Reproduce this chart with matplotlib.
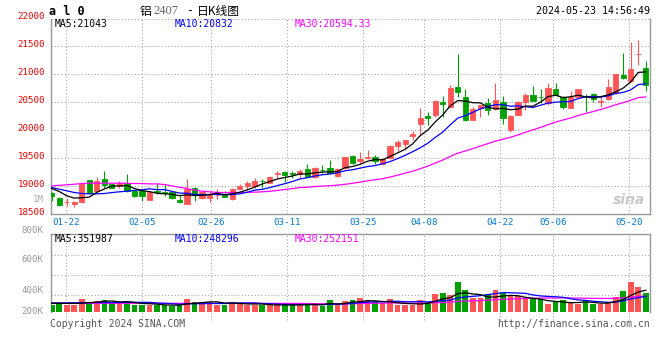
import matplotlib
matplotlib.use("Agg")
import matplotlib.pyplot as plt
from matplotlib.transforms import ScaledTranslation

# ---- data (aluminium al2407 daily K-line) ----
dates = ["01-18", "01-19", "01-22", "01-23", "01-24", "01-25", "01-26", "01-29", "01-30", "01-31",
         "02-01", "02-02", "02-05", "02-06", "02-07", "02-08", "02-19", "02-20", "02-21", "02-22",
         "02-23", "02-26", "02-27", "02-28", "02-29", "03-01", "03-04", "03-05", "03-06", "03-07",
         "03-08", "03-11", "03-12", "03-13", "03-14", "03-15", "03-18", "03-19", "03-20", "03-21",
         "03-22", "03-25", "03-26", "03-27", "03-28", "03-29", "04-01", "04-02", "04-03", "04-08",
         "04-09", "04-10", "04-11", "04-12", "04-15", "04-16", "04-17", "04-18", "04-19", "04-22",
         "04-23", "04-24", "04-25", "04-26", "04-29", "04-30", "05-06", "05-07", "05-08", "05-09",
         "05-10", "05-13", "05-14", "05-15", "05-16", "05-17", "05-20", "05-21", "05-22", "05-23"]

opens = [18864, 18775, 18710, 18675, 18704, 19101, 18912, 19131, 19030, 19000,
         19048, 18912, 18912, 18752, 18903, 18894, 18882, 18752, 18675, 18971,
         18787, 18781, 18835, 18846, 18763, 18941, 19000, 19000, 19089, 19060,
         19220, 19249, 19226, 19208, 19297, 19166, 19285, 19314, 19178, 19314,
         19533, 19445, 19505, 19516, 19385, 19504, 19711, 19758, 19889, 20114,
         20256, 20274, 20505, 20422, 20765, 20588, 20185, 20404, 20493, 20380,
         20511, 19995, 20274, 20511, 20629, 20590, 20481, 20730, 20600, 20404,
         20600, 20603, 20641, 20508, 20558, 20659, 20985, 20878, 21358, 21121]
highs = [18882, 18793, 18775, 18734, 19060, 19110, 19166, 19267, 19040, 19089,
         19208, 18920, 18918, 18882, 19048, 19030, 18890, 18835, 19119, 18989,
         18882, 18900, 18953, 18900, 18971, 19030, 19089, 19148, 19131, 19170,
         19267, 19267, 19267, 19297, 19385, 19338, 19368, 19456, 19326, 19516,
         19551, 19610, 19652, 19545, 19505, 19730, 19830, 19830, 19990, 20404,
         20333, 20540, 20612, 20807, 21358, 20730, 20410, 20451, 20570, 20848,
         20617, 20274, 20515, 20671, 20789, 20730, 20836, 20848, 20612, 20700,
         20736, 20647, 20659, 20600, 20907, 21010, 21382, 21577, 21618, 21233]
lows = [18734, 18633, 18645, 18615, 18700, 18865, 18882, 18971, 18965, 18971,
        18882, 18800, 18734, 18740, 18852, 18823, 18760, 18692, 18675, 18734,
        18770, 18716, 18763, 18793, 18752, 18941, 18930, 18971, 18971, 19050,
        19148, 19071, 19148, 19148, 19166, 19148, 19237, 19208, 19166, 19310,
        19385, 19415, 19474, 19385, 19373, 19500, 19622, 19681, 19818, 19918,
        20096, 20232, 20232, 20392, 20600, 20155, 20173, 20226, 20262, 20363,
        20114, 19960, 20270, 20363, 20528, 20481, 20451, 20629, 20375, 20392,
        20600, 20321, 20511, 20410, 20540, 20655, 20907, 20866, 21162, 20706]
closes = [18811, 18663, 18720, 18704, 19042, 18870, 19089, 19018, 18971, 19048,
          18912, 18823, 18823, 18882, 18897, 18864, 18781, 18704, 18953, 18835,
          18882, 18841, 18841, 18805, 18941, 19000, 19060, 19089, 19083, 19160,
          19226, 19196, 19220, 19267, 19166, 19314, 19280, 19226, 19297, 19516,
          19415, 19474, 19510, 19445, 19486, 19723, 19794, 19830, 19936, 20221,
          20215, 20529, 20463, 20748, 20689, 20173, 20380, 20451, 20363, 20540,
          20215, 20256, 20511, 20629, 20528, 20587, 20748, 20629, 20422, 20600,
          20730, 20597, 20552, 20514, 20765, 21002, 20937, 21103, 21364, 20807]

ma5 = [18953, 18900, 18823, 18781, 18788, 18800, 18885, 18945, 18998, 18999,
       19008, 18954, 18915, 18898, 18867, 18858, 18849, 18826, 18840, 18827,
       18831, 18843, 18870, 18841, 18862, 18886, 18929, 18979, 19035, 19078,
       19124, 19151, 19177, 19214, 19215, 19233, 19249, 19251, 19257, 19327,
       19347, 19386, 19442, 19472, 19466, 19528, 19592, 19656, 19754, 19901,
       19999, 20146, 20273, 20435, 20529, 20520, 20491, 20488, 20411, 20381,
       20390, 20365, 20377, 20430, 20428, 20502, 20601, 20624, 20583, 20597,
       20626, 20596, 20580, 20599, 20632, 20686, 20754, 20864, 21034, 21043]
ma10 = [18971, 18941, 18912, 18882, 18864, 18858, 18858, 18864, 18880, 18894,
        18904, 18920, 18930, 18948, 18933, 18933, 18902, 18871, 18869, 18847,
        18844, 18846, 18848, 18840, 18845, 18858, 18886, 18925, 18938, 18970,
        19005, 19040, 19078, 19124, 19147, 19178, 19200, 19214, 19235, 19271,
        19290, 19318, 19347, 19364, 19396, 19437, 19489, 19549, 19613, 19683,
        19763, 19869, 19964, 20095, 20215, 20260, 20318, 20381, 20423, 20455,
        20455, 20428, 20433, 20421, 20405, 20446, 20483, 20501, 20507, 20513,
        20564, 20598, 20602, 20591, 20614, 20656, 20675, 20722, 20816, 20832]
ma30 = [19000, 19010, 19020, 19030, 19042, 19048, 19048, 19048, 19048, 19048,
        19048, 19042, 19042, 19036, 19036, 19024, 19000, 18976, 18953, 18923,
        18905, 18894, 18882, 18882, 18882, 18882, 18884, 18888, 18894, 18904,
        18918, 18935, 18952, 18971, 18975, 18990, 18996, 19003, 19014, 19029,
        19046, 19068, 19091, 19110, 19129, 19158, 19192, 19229, 19262, 19308,
        19353, 19409, 19463, 19528, 19586, 19625, 19669, 19714, 19757, 19803,
        19836, 19871, 19914, 19960, 20005, 20048, 20097, 20143, 20181, 20217,
        20261, 20298, 20333, 20369, 20411, 20454, 20492, 20534, 20582, 20594.33]

volumes = [108, 141, 113, 113, 212, 157, 174, 190, 135, 135,
           174, 113, 108, 108, 108, 108, 91, 108, 212, 157,
           163, 157, 108, 108, 163, 135, 108, 108, 108, 108,
           108, 108, 108, 108, 146, 119, 91, 190, 108, 174,
           190, 229, 190, 163, 135, 207, 108, 108, 108, 190,
           152, 289, 311, 273, 492, 360, 218, 218, 284, 360,
           311, 267, 256, 229, 229, 201, 130, 163, 190, 135,
           120, 185, 120, 130, 140, 240, 340, 480, 400, 300]  # thousands
vol_ma5 = [135, 135, 135, 135, 137, 147, 154, 169, 174, 158,
           162, 149, 133, 128, 122, 109, 105, 105, 125, 135,
           146, 159, 159, 139, 140, 134, 124, 124, 124, 113,
           108, 108, 108, 108, 116, 118, 114, 131, 123, 134,
           154, 162, 178, 176, 165, 161, 144, 133, 128, 124,
           133, 169, 210, 227, 295, 309, 290, 279, 238, 238,
           256, 266, 260, 234, 218, 205, 179, 166, 158, 145,
           148, 159, 150, 138, 139, 163, 194, 266, 320, 351.987]
vol_ma10 = [140, 140, 142, 142, 144, 146, 147, 148, 148, 148,
            154, 152, 151, 151, 140, 135, 127, 119, 127, 129,
            128, 132, 132, 132, 138, 140, 142, 142, 132, 127,
            121, 116, 116, 116, 115, 113, 111, 119, 119, 126,
            134, 146, 155, 160, 159, 168, 169, 161, 161, 163,
            159, 165, 177, 188, 224, 239, 250, 261, 279, 296,
            312, 309, 304, 300, 273, 257, 249, 243, 234, 211,
            192, 184, 170, 160, 151, 155, 176, 208, 229, 248.296]
vol_ma30 = [136, 136, 136, 136, 136, 136, 136, 136, 136, 136,
            136, 136, 136, 136, 135, 135, 135, 135, 135, 135,
            135, 135, 135, 135, 135, 135, 135, 135, 134, 134,
            134, 133, 133, 133, 131, 129, 127, 127, 126, 127,
            128, 132, 134, 136, 137, 140, 141, 141, 137, 138,
            138, 143, 149, 155, 166, 173, 177, 181, 186, 195,
            202, 207, 212, 216, 219, 221, 223, 222, 225, 223,
            221, 219, 217, 216, 216, 217, 225, 237, 247, 252.151]

tick_dates = ["01-22", "02-05", "02-26", "03-11", "03-25", "04-08", "04-22", "05-06", "05-20"]
price_ticks = [22000, 21500, 21000, 20500, 20000, 19500, 19000, 18500]
vol_labels = ["1M", "800K", "600K", "400K", "200K"]

RED = "#ff5555"
GREEN = "#00a000"
GRID = "#a8a8a8"
FRAME = "#999999"
MONO = "DejaVu Sans Mono"

W, H = 660, 360
fig = plt.figure(figsize=(6.6, 3.6), dpi=100)
fig.patch.set_facecolor("white")


def px_rect(x0, y0, x1, y1):
    return [x0 / W, 1 - y1 / H, (x1 - x0) / W, (y1 - y0) / H]


ax = fig.add_axes(px_rect(50.7, 18.5, 650, 213.8))
axv = fig.add_axes(px_rect(50.7, 234, 650, 311.5))

n = len(dates)
xs = list(range(n))
colors = [RED if c >= o else GREEN for o, c in zip(opens, closes)]
grid_x = [dates.index(d) * 80 / 79 - 0.13 for d in tick_dates]
xlim = (-0.133, 79.56)

# ---- price panel ----
ax.vlines(xs, lows, highs, colors=colors, linewidth=0.8, zorder=3)
ax.bar(xs, [abs(c - o) for o, c in zip(opens, closes)], bottom=[min(o, c) for o, c in zip(opens, closes)],
       width=0.7, color=colors, edgecolor=colors, linewidth=0.6, zorder=4)
ax.plot(xs, ma30, color="#ff00ff", linewidth=0.9, zorder=5)
ax.plot(xs, ma10, color="#0000ff", linewidth=0.9, zorder=5)
ax.plot(xs, ma5, color="black", linewidth=0.9, zorder=5)

ax.set_xlim(*xlim)
ax.set_ylim(18500, 22000)
for p in price_ticks[:-1]:
    ax.axhline(p, color=GRID, linewidth=0.8, linestyle=(0, (1, 2)), zorder=1)
for gx in grid_x:
    ax.axvline(gx, color=GRID, linewidth=0.8, linestyle=(0, (1, 2)), zorder=1)

ax.set_yticks(price_ticks)
ax.set_yticklabels([str(p) for p in price_ticks], color="#ee0000", fontsize=6.6, family=MONO)
ax.tick_params(axis="y", length=0, pad=4)
for lbl in ax.get_yticklabels():
    lbl.set_transform(lbl.get_transform() + ScaledTranslation(0, 2 / 72, fig.dpi_scale_trans))
ax.set_xticks(grid_x)
ax.set_xticklabels(tick_dates, color="#0078d7", fontsize=6.6, family=MONO)
ax.tick_params(axis="x", length=0, pad=3)

for side in ["left", "bottom", "right"]:
    ax.spines[side].set_color(FRAME)
    ax.spines[side].set_linewidth(1)
ax.spines["top"].set_visible(False)

ax.text(-0.012, 0.071, "1M", transform=ax.transAxes, ha="right", va="center",
        color="#aaaaaa", fontsize=6.6, family=MONO)
ax.text(0.992, 0.07, "sina", transform=ax.transAxes, ha="right", va="center", color="#c8c8c8",
        fontsize=10, fontweight="bold", style="italic", family="DejaVu Sans", zorder=2)

# ---- volume panel ----
vol_top = 1279
axv.bar(xs, volumes, width=0.75, color=colors, linewidth=0, zorder=3)
axv.plot(xs, vol_ma30, color="#ff00ff", linewidth=0.9, zorder=5)
axv.plot(xs, vol_ma10, color="#0000ff", linewidth=0.9, zorder=5)
axv.plot(xs, vol_ma5, color="black", linewidth=0.9, zorder=5)
axv.set_xlim(*xlim)
axv.set_ylim(0, vol_top)
for f in (0.21, 0.47, 0.73):
    axv.axhline(f * vol_top, color=GRID, linewidth=0.8, linestyle=(0, (1, 2)), zorder=1)
axv.vlines(grid_x, -0.11 * vol_top, vol_top, colors=GRID, linewidth=0.8, linestyles=(0, (1, 2)),
           zorder=1, clip_on=False)
axv.set_xticks([])
axv.set_yticks([])
for side in ["left", "top", "right"]:
    axv.spines[side].set_color(FRAME)
    axv.spines[side].set_linewidth(1)
axv.spines["bottom"].set_visible(False)

for lbl, fy in zip(vol_labels[1:], (1.05, 0.665, 0.277, 0.006)):
    axv.text(-0.012, fy, lbl, transform=axv.transAxes, ha="right", va="center",
             color="#999999", fontsize=6.6, family=MONO)

# ---- header texts ----
def ftext(x, y, s, **kw):
    fig.text(x / W, 1 - y / H, s, va="center", **kw)


ftext(49, 11.5, "a l 0", fontsize=8.5, fontweight="bold", family=MONO, color="black")
ftext(140, 11, "铝", fontsize=8.5, family=["Noto Sans CJK SC", "DejaVu Sans"], color="black")
ftext(153, 11, "2407", fontsize=9, family="Liberation Serif", color="#666666")
ftext(187, 11, "-", fontsize=8.5, family=MONO, color="black")
ftext(197, 11, "日K线图", fontsize=8.5, family=["Noto Sans CJK SC", "DejaVu Sans"], color="black")
ftext(650, 11.5, "2024-05-23 14:56:49", ha="right", fontsize=7.2, family=MONO, color="black")

ftext(55, 24, "MA5:%d" % ma5[-1], fontsize=7, family=MONO, color="black")
ftext(175, 24, "MA10:%d" % ma10[-1], fontsize=7, family=MONO, color="#0000ff")
ftext(295, 24, "MA30:%.2f" % ma30[-1], fontsize=7, family=MONO, color="#ff00ff")

ftext(55, 239, "MA5:%d" % round(vol_ma5[-1] * 1000), fontsize=7, family=MONO, color="black")
ftext(175, 239, "MA10:%d" % round(vol_ma10[-1] * 1000), fontsize=7, family=MONO, color="#0000ff")
ftext(295, 239, "MA30:%d" % round(vol_ma30[-1] * 1000), fontsize=7, family=MONO, color="#ff00ff")

ftext(50, 324, "Copyright 2024 SINA.COM", fontsize=7, family=MONO, color="#555555")
ftext(650, 324, "http://finance.sina.com.cn", ha="right", fontsize=7, family=MONO, color="#555555")

fig.savefig("out.png", dpi=100, facecolor="white")
